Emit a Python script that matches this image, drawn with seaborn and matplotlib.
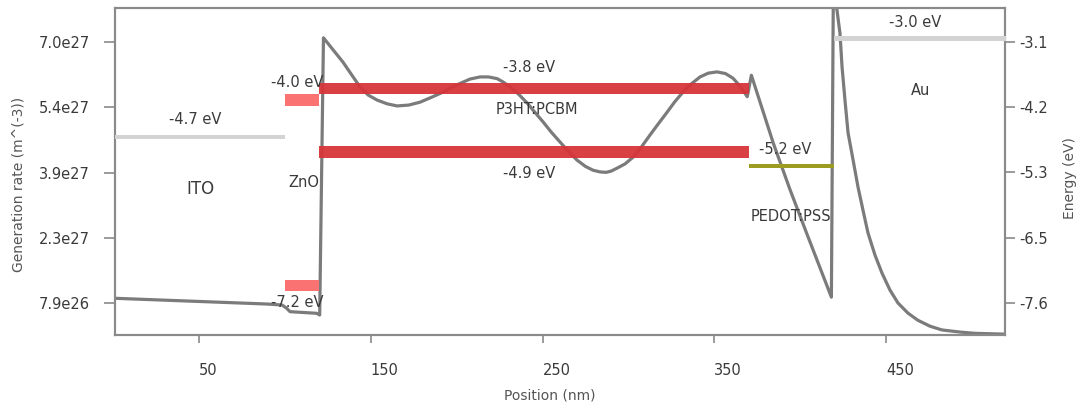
import matplotlib
matplotlib.use("Agg")
import matplotlib.pyplot as plt
import pandas as pd
import seaborn as sns

# ---------------- data ----------------
# Generation-rate profile: position (nm) and generation rate (units of 1e27 m^-3)
position_nm = [0, 89.5, 98.3, 101.0, 102.9, 118.5, 120.2,
               122.4, 128.1, 133.8, 139.0, 143.7, 148.4, 153.6, 159.5, 165.3, 172.0, 178.7,
               185.0, 192.1, 200.0, 207.8, 213.6, 218.5, 223.5, 227.0, 231.1,
               236.0, 241.0, 245.5, 250.3, 255.0, 260.2, 265.0, 270.1, 275.0,
               279.4, 283.5, 287.0, 290.0, 293.4, 298.0, 302.7, 307.5, 312.6,
               317.5, 322.5, 327.0, 331.8, 336.5, 341.7, 346.5, 351.6, 356.5,
               360.9, 365.0, 369.2, 371.6, 384.4, 394.0, 403.8, 418.2,
               419.4, 421.0, 423.2, 424.4, 426.1, 427.9, 430.8, 433.7, 436.6,
               439.5, 443.6, 447.7, 452.3, 457.0, 462.8, 468.6, 475.6, 482.6,
               493.1, 501.8, 519.0]
generation_e27 = [0.905, 0.767, 0.743, 0.665, 0.585, 0.546, 0.505,
                  7.10, 6.81, 6.52, 6.21, 5.93, 5.74, 5.62, 5.53, 5.48, 5.50, 5.57,
                  5.68, 5.81, 5.98, 6.12, 6.17, 6.17, 6.13, 6.05, 5.93,
                  5.76, 5.55, 5.33, 5.10, 4.86, 4.62, 4.40, 4.19, 4.04,
                  3.95, 3.91, 3.90, 3.93, 4.00, 4.10, 4.26, 4.50, 4.79,
                  5.06, 5.33, 5.58, 5.81, 6.00, 6.17, 6.26, 6.29, 6.25,
                  6.14, 5.95, 5.70, 6.21, 4.59, 3.50, 2.45, 0.93,
                  8.70, 7.90, 7.21, 6.41, 5.62, 4.84, 4.20, 3.55, 3.00,
                  2.46, 1.93, 1.50, 1.10, 0.79, 0.55, 0.38, 0.24, 0.15,
                  0.10, 0.07, 0.05]

# Energy levels of the layers
level_start = [0, 100, 100, 120, 120, 370, 420]
level_end = [100, 120, 120, 370, 370, 420, 520]
level_energy = [-4.7, -4.0, -7.2, -3.8, -4.9, -5.2, -3.0]
level_text = ["-4.7 eV", "-4.0 eV", "-7.2 eV", "-3.8 eV", "-4.9 eV", "-5.2 eV", "-3.0 eV"]
layer_names = ["ITO", "ZnO", "P3HT:PCBM", "PEDOT:PSS", "Au"]

x_ticks = [50, 150, 250, 350, 450]
gen_ticks = [0.79e27, 2.3425e27, 3.895e27, 5.4475e27, 7.0e27]
gen_tick_labels = ["7.9e26", "2.3e27", "3.9e27", "5.4e27", "7.0e27"]
energy_ticks = [-7.6, -6.475, -5.35, -4.225, -3.1]
energy_tick_labels = ["-7.6", "-6.5", "-5.3", "-4.2", "-3.1"]

# ---------------- styling / layout ----------------
level_thickness = [0.07, 0.2, 0.2, 0.2, 0.2, 0.08, 0.08]
level_colors = ["#d3d3d3", "#fb7272", "#fb7272", "#d6353a", "#d6353a", "#9c9c22", "#d3d3d3"]
level_alpha = [1.0, 1.0, 1.0, 0.95, 0.95, 1.0, 1.0]
level_text_xy = [(47.7, -4.445), (107.1, -3.807), (107.1, -7.60), (242.2, -3.548),
                 (242.2, -5.359), (391.2, -4.962), (466.8, -2.772)]
layer_text_xy = [(50.6, -5.634), (111.1, -5.531), (246.9, -4.272), (394.7, -6.117), (470.3, -3.928)]

sns.set_theme(style="white")
plt.rcParams["font.family"] = ["DejaVu Sans"]

fig = plt.figure(figsize=(10.85, 4.08), dpi=100)
ax = fig.add_axes([115 / 1085, 73 / 408, 890 / 1085, 327 / 408])

df = pd.DataFrame({"position": position_nm,
                   "generation": [g * 1e27 for g in generation_e27]})
sns.lineplot(data=df, x="position", y="generation", ax=ax, sort=False,
             estimator=None, color="#7b7b7b", linewidth=2.3, zorder=2)

ax.set_xlim(1, 519.3)
ax.set_ylim(0.03e27, 7.81e27)
ax.set_xticks(x_ticks)
ax.set_xticklabels([str(t) for t in x_ticks], ha="left")
ax.set_yticks(gen_ticks)
ax.set_yticklabels(gen_tick_labels)

ax2 = ax.twinx()
ax2.set_ylim(-8.152, -2.514)
ax2.set_yticks(energy_ticks)
ax2.set_yticklabels(energy_tick_labels)

for x0, x1, e, th, c, a in zip(level_start, level_end, level_energy,
                               level_thickness, level_colors, level_alpha):
    ax2.fill_between([x0, x1], [e - th, e - th], [e, e], color=c, alpha=a,
                     linewidth=0, zorder=3)

txt_color = "#3a3a3a"
for (x, y), t in zip(level_text_xy, level_text):
    ax2.text(x, y, t, ha="center", va="center", fontsize=10.5, color=txt_color, zorder=5)
for (x, y), t in zip(layer_text_xy, layer_names):
    fs = 12 if t == "ITO" else 10.5
    ax2.text(x, y, t, ha="center", va="center", fontsize=fs, color=txt_color, zorder=5)

spine_color = "#8a8a8a"
for a in (ax, ax2):
    for s in a.spines.values():
        s.set_color(spine_color)
        s.set_linewidth(1.5)
        s.set_visible(True)

ax.tick_params(axis="y", which="both", left=True, length=8, width=1.2,
               color=spine_color, pad=10, labelsize=10.5, labelcolor=txt_color)
ax.tick_params(axis="x", which="both", bottom=True, length=6, width=1.2,
               color=spine_color, pad=14, labelsize=10.5, labelcolor=txt_color)
ax2.tick_params(axis="y", which="both", right=True, length=7, width=1.2,
                color=spine_color, pad=3.5, labelsize=10.5, labelcolor=txt_color)

ax.set_xlabel("Position (nm)", fontsize=10, color="#555555")
ax.set_ylabel("Generation rate (m^(-3))", fontsize=10, color="#555555")
ax2.set_ylabel("Energy (eV)", fontsize=10, color="#555555")
ax.xaxis.set_label_coords(0.489, -0.165)
ax.yaxis.set_label_coords(-0.101, 0.459)
ax2.yaxis.set_label_coords(1.065, 0.48)

fig.savefig("out.png", dpi=100)
